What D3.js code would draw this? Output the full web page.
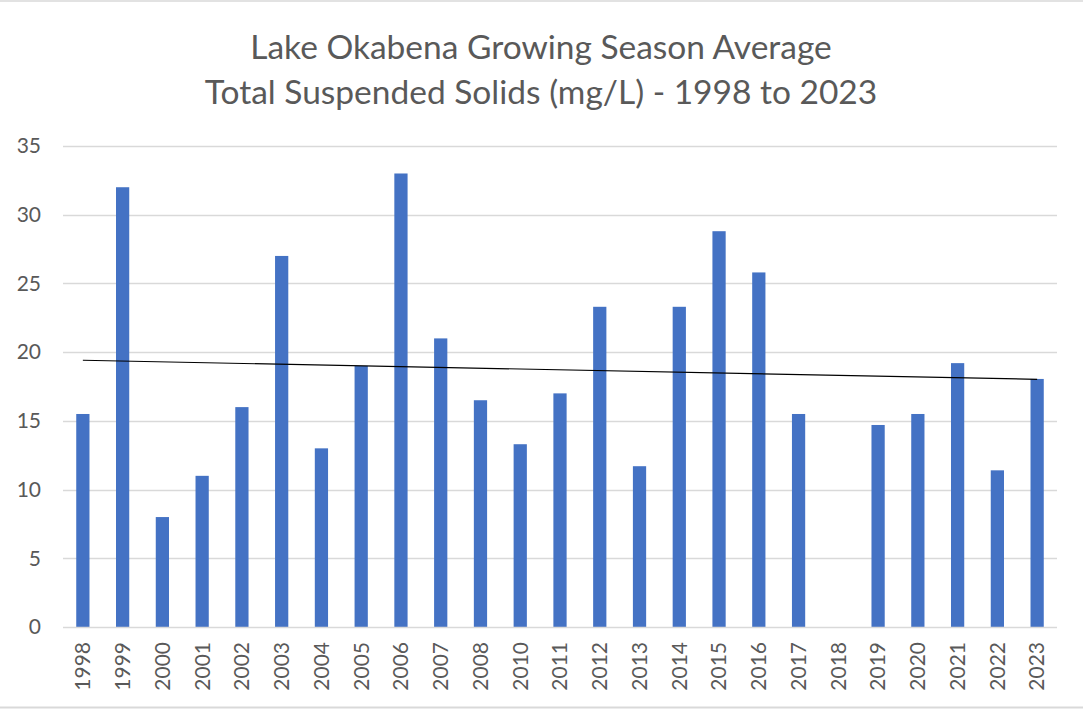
<!DOCTYPE html>
<html><head><meta charset="utf-8">
<script src="https://cdn.jsdelivr.net/npm/d3@7"></script>
<style>body{margin:0;background:#fff;} svg{display:block;font-family:Lato,"Open Sans",sans-serif;}</style>
</head><body><svg id="c" width="1083" height="711"></svg>
<script>
const categories = ["1998","1999","2000","2001","2002","2003","2004","2005","2006","2007","2008","2010","2011","2012","2013","2014","2015","2016","2017","2018","2019","2020","2021","2022","2023"];
const values = [15.5,32,8,11,16,27,13,19,33,21,16.5,13.3,17,23.3,11.7,23.3,28.8,25.8,15.5,null,14.7,15.5,19.2,11.4,18.05];
const yTicks = [0,5,10,15,20,25,30,35];
const titleLines = ["Lake Okabena Growing Season Average","Total Suspended Solids (mg/L) - 1998 to 2023"];

const svg = d3.select("#c");
const W=1083,H=711;
const m={left:63,right:1057,top:146,bottom:627};
const x=d3.scaleBand().domain(categories).range([m.left,m.right]).paddingInner(0.667).paddingOuter(0.333);
const y=d3.scaleLinear().domain([0,35]).range([m.bottom,m.top]);

// borders
svg.append("line").attr("x1",0).attr("x2",W).attr("y1",1).attr("y2",1).attr("stroke","#d9d9d9").attr("stroke-width",1.5);
svg.append("line").attr("x1",0).attr("x2",W).attr("y1",707.5).attr("y2",707.5).attr("stroke","#d9d9d9").attr("stroke-width",2);

// title
svg.append("g").selectAll("text").data(titleLines).join("text")
  .attr("x",541).attr("y",(d,i)=>59+i*45).attr("text-anchor","middle")
  .attr("font-size",33.5).attr("fill","#595959").text(d=>d);

// gridlines
svg.append("g").selectAll("line").data(yTicks.filter(t=>t>0)).join("line")
  .attr("x1",m.left).attr("x2",m.right).attr("y1",d=>Math.round(y(d))+0.5).attr("y2",d=>Math.round(y(d))+0.5)
  .attr("stroke","#d9d9d9").attr("stroke-width",1.3);

// y axis
const ya=svg.append("g").attr("transform",`translate(${m.left},0)`).call(d3.axisLeft(y).tickValues(yTicks).tickSize(0).tickPadding(22));
ya.select(".domain").remove();
ya.selectAll("text").attr("font-size",21).attr("fill","#595959").attr("font-family","Lato,'Open Sans',sans-serif");

// bars
const xv=categories.map((c,i)=>({c,v:values[i],i}));
svg.append("g").selectAll("rect").data(xv.filter(d=>d.v!=null)).join("rect")
  .attr("x",d=>x(d.c)).attr("width",x.bandwidth()).attr("y",d=>y(d.v)).attr("height",d=>y(0)-y(d.v)).attr("fill","#4472c4");

// baseline
svg.append("line").attr("x1",m.left).attr("x2",m.right).attr("y1",y(0)+0.5).attr("y2",y(0)+0.5).attr("stroke","#d9d9d9").attr("stroke-width",1.3);

// x axis
const xa=svg.append("g").attr("transform",`translate(0,${y(0)})`).call(d3.axisBottom(x).tickSize(0));
xa.select(".domain").remove();
xa.selectAll("text").attr("font-size",21).attr("fill","#595959").attr("font-family","Lato,'Open Sans',sans-serif")
  .attr("transform","rotate(-90)").attr("text-anchor","end").attr("dy","0.35em").attr("x",-15).attr("y",0);

// linear trendline (least squares over category index, blanks excluded)
const pts=xv.filter(d=>d.v!=null).map(d=>[d.i+1,d.v]);
const mx=d3.mean(pts,p=>p[0]), my=d3.mean(pts,p=>p[1]);
const slope=d3.sum(pts,p=>(p[0]-mx)*(p[1]-my))/d3.sum(pts,p=>(p[0]-mx)**2);
const icpt=my-slope*mx;
const ends=[1,categories.length];
const cx=i=>x(categories[i-1])+x.bandwidth()/2;
svg.append("path").attr("d",d3.line().x(p=>cx(p)).y(p=>y(icpt+slope*p))(ends))
  .attr("stroke","#000").attr("stroke-width",1.2).attr("fill","none");
</script></body></html>
